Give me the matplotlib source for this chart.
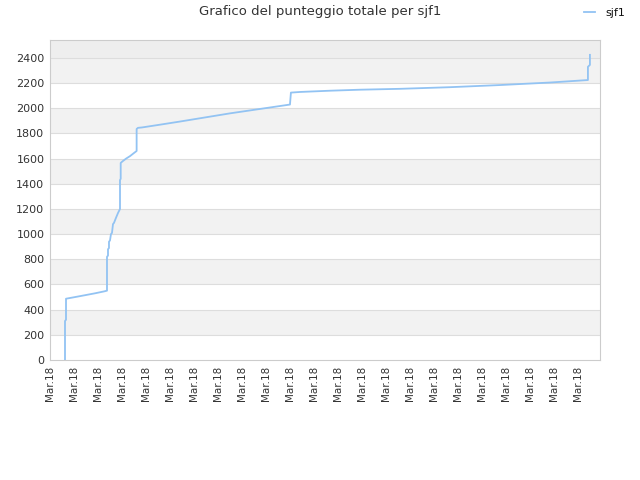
import matplotlib
matplotlib.use("Agg")
import matplotlib.pyplot as plt

# Data (x in tick-index units, y = total score)
x_vals = [0.625, 0.625, 0.667, 0.667, 1.04, 1.46, 1.875, 2.25, 2.375, 2.375, 2.417, 2.417,
          2.458, 2.458, 2.5, 2.54, 2.583, 2.625, 2.667, 2.75, 2.833, 2.917, 2.917, 2.946,
          2.946, 3.03, 3.167, 3.333, 3.5, 3.61, 3.61, 3.667, 3.833, 4.583, 5.417, 6.25,
          7.5, 8.75, 10.0, 10.04, 10.417, 11.667, 12.917, 14.583, 16.667, 18.75, 20.833,
          21.875, 22.417, 22.417, 22.5, 22.5]
scores = [0, 310, 320, 487, 500, 515, 530, 545, 551, 820, 830, 880,
          890, 940, 950, 1000, 1010, 1080, 1090, 1130, 1168, 1200, 1430, 1440,
          1566, 1580, 1600, 1620, 1645, 1661, 1836, 1845, 1848, 1870, 1895, 1921,
          1960, 1995, 2030, 2125, 2130, 2140, 2148, 2155, 2168, 2185, 2205,
          2218, 2225, 2330, 2345, 2425]
tick_labels = ["Mar.18"] * 23
y_ticks = list(range(0, 2401, 200))
series_name = "sjf1"
title = "Grafico del punteggio totale per sjf1"

fig = plt.figure(figsize=(6.4, 4.8), dpi=100)
ax = fig.add_axes([50/640, 120/480, 550/640, 320/480])

ymax = 2543
ax.set_xlim(0, 22.92)
ax.set_ylim(0, ymax)

# alternating bands
for i, yt in enumerate(y_ticks):
    top = y_ticks[i + 1] if i + 1 < len(y_ticks) else ymax
    if i == len(y_ticks) - 1:
        col = "#eeeeee"
    elif i % 2 == 1:
        col = "#f2f2f2"
    else:
        col = "#ffffff"
    ax.axhspan(yt, top, color=col, zorder=0, lw=0)
for yt in y_ticks[1:]:
    ax.axhline(yt, color="#dddddd", lw=0.8, zorder=1)

ax.plot(x_vals, scores, color="#92c3f3", lw=1.3, zorder=3, label=series_name)

ax.set_yticks(y_ticks)
ax.set_yticklabels([str(v) for v in y_ticks], fontsize=8, color="#333333")
ax.set_xticks(range(len(tick_labels)))
ax.set_xticklabels(tick_labels, rotation=90, fontsize=7.5, color="#333333")
ax.tick_params(length=0, pad=4)
for s in ax.spines.values():
    s.set_color("#cccccc")
    s.set_linewidth(0.8)

fig.text(0.5, 1 - 12/480, title, ha="center", va="center", fontsize=9.5, color="#333333")
leg = fig.legend(loc="upper left", bbox_to_anchor=(584/640, 1 - 8/480), frameon=False,
                 fontsize=8, handlelength=1.0, handletextpad=0.9,
                 borderpad=0, borderaxespad=0)
for t in leg.get_texts():
    t.set_color("#111111")

fig.savefig("out.png", dpi=100)
